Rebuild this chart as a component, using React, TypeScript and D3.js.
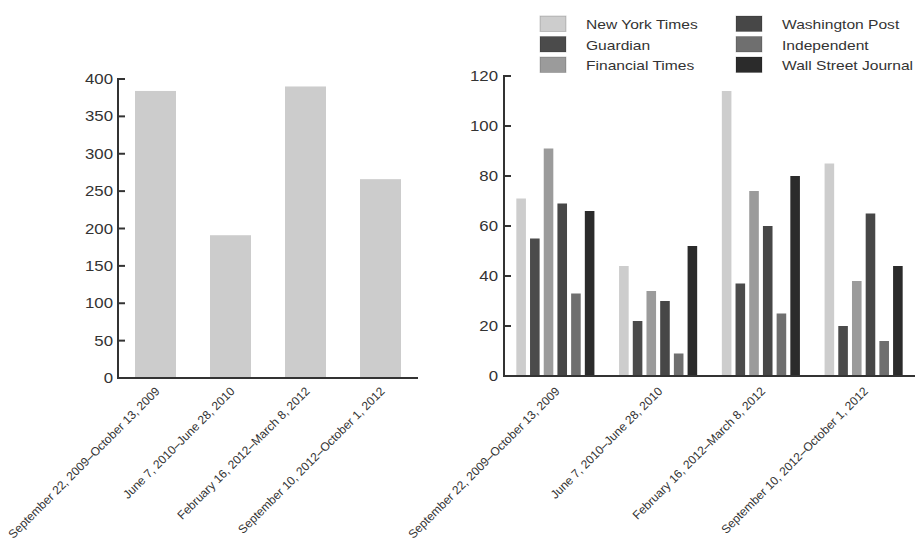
import React from "react";
import * as d3 from "d3";

const periods = [
  "September 22, 2009–October 13, 2009",
  "June 7, 2010–June 28, 2010",
  "February 16, 2012–March 8, 2012",
  "September 10, 2012–October 1, 2012",
];
const totals = [384, 191, 390, 266];
const leftTicks = [0, 50, 100, 150, 200, 250, 300, 350, 400];

const papers = [
  "New York Times",
  "Guardian",
  "Financial Times",
  "Washington Post",
  "Independent",
  "Wall Street Journal",
];
const paperColors = ["#cdcdcd", "#4b4b4b", "#9b9b9b", "#474747", "#6f6f6f", "#2b2b2b"];
const nytValues = [71, 44, 114, 85];
const guardianValues = [55, 22, 37, 20];
const ftValues = [91, 34, 74, 38];
const wapoValues = [69, 30, 60, 65];
const independentValues = [33, 9, 25, 14];
const wsjValues = [66, 52, 80, 44];
const seriesValues = [nytValues, guardianValues, ftValues, wapoValues, independentValues, wsjValues];
const rightTicks = [0, 20, 40, 60, 80, 100, 120];

const W = 917;
const H = 543;
const AXIS = "#333333";
const TEXT = "#333333";
const FONT = "'Liberation Sans', Arial, Helvetica, sans-serif";
const SX = 1.2;

function HText({ x, y, anchor, size, children }: any) {
  return (
    <text
      transform={`translate(${x},${y}) scale(${SX},1)`}
      textAnchor={anchor}
      fontSize={size}
      fill={TEXT}
      fontFamily={FONT}
    >
      {children}
    </text>
  );
}

export default function App() {
  // left chart
  const lx = d3.scaleBand<string>().domain(periods).range([118, 418]).paddingInner(0.453).paddingOuter(0.2265);
  const ly = d3.scaleLinear().domain([0, 400]).range([378, 79]);

  // right chart
  const rx0 = d3.scaleBand<string>().domain(periods).range([504, 915]).paddingInner(0.24).paddingOuter(0.12);
  const rx1 = d3.scaleBand<string>().domain(papers).range([0, rx0.bandwidth()]).paddingInner(0.3).paddingOuter(0);
  const ry = d3.scaleLinear().domain([0, 120]).range([376, 76]);

  const legendCols = [540, 736];
  const legendRowY = [16, 36.5, 57];

  return (
    <svg
      width={W}
      height={H}
      style={{ position: "absolute", left: 0, top: 0, background: "#fff" }}
      fontFamily={FONT}
    >
      <rect x={0} y={0} width={W} height={H} fill="#fff" />
      {/* LEFT CHART */}
      {totals.map((v, i) => (
        <rect
          key={"lb" + i}
          x={lx(periods[i])}
          y={ly(v)}
          width={lx.bandwidth()}
          height={ly(0) - ly(v)}
          fill="#cccccc"
        />
      ))}
      <line x1={118} x2={418} y1={ly(0)} y2={ly(0)} stroke={AXIS} strokeWidth={2} />
      <line x1={118} x2={118} y1={ly(0) + 1} y2={ly(400) - 1} stroke={AXIS} strokeWidth={2} />
      {leftTicks.map((t) => (
        <g key={"lt" + t}>
          <line x1={118} x2={125} y1={ly(t)} y2={ly(t)} stroke={AXIS} strokeWidth={2} />
          <HText x={113} y={ly(t) + 5} anchor="end" size={14}>
            {t}
          </HText>
        </g>
      ))}
      {periods.map((p) => {
        const cx = (lx(p) as number) + lx.bandwidth() / 2 + 5;
        return (
          <text
            key={"ll" + p}
            transform={`translate(${cx},${392}) rotate(-45)`}
            textAnchor="end"
            fontSize={12}
            fill={TEXT}
            fontFamily={FONT}
          >
            {p}
          </text>
        );
      })}

      {/* RIGHT CHART */}
      {periods.map((p, gi) => (
        <g key={"g" + gi} transform={`translate(${rx0(p)},0)`}>
          {papers.map((s, si) => {
            const v = seriesValues[si][gi];
            return (
              <rect
                key={s}
                x={rx1(s)}
                y={ry(v)}
                width={rx1.bandwidth()}
                height={ry(0) - ry(v)}
                fill={paperColors[si]}
              />
            );
          })}
        </g>
      ))}
      <line x1={504} x2={915} y1={ry(0)} y2={ry(0)} stroke={AXIS} strokeWidth={2} />
      <line x1={504} x2={504} y1={ry(0) + 1} y2={ry(120) - 1} stroke={AXIS} strokeWidth={2} />
      {rightTicks.map((t) => (
        <g key={"rt" + t}>
          <line x1={504} x2={511} y1={ry(t)} y2={ry(t)} stroke={AXIS} strokeWidth={2} />
          <HText x={498} y={ry(t) + 5} anchor="end" size={14}>
            {t}
          </HText>
        </g>
      ))}
      {periods.map((p) => {
        const cx = (rx0(p) as number) + rx0.bandwidth() / 2 + 5;
        return (
          <text
            key={"rl" + p}
            transform={`translate(${cx},${392}) rotate(-45)`}
            textAnchor="end"
            fontSize={12}
            fill={TEXT}
            fontFamily={FONT}
          >
            {p}
          </text>
        );
      })}

      {/* LEGEND */}
      {papers.map((s, i) => {
        const col = Math.floor(i / 3);
        const row = i % 3;
        const x = legendCols[col];
        const y = legendRowY[row];
        return (
          <g key={"lg" + s}>
            <rect x={x} y={y} width={26} height={15.5} fill={paperColors[i]} stroke="rgba(0,0,0,0.18)" strokeWidth={1} />
            <HText x={x + 46} y={y + 13} anchor="start" size={13}>
              {s}
            </HText>
          </g>
        );
      })}
    </svg>
  );
}
